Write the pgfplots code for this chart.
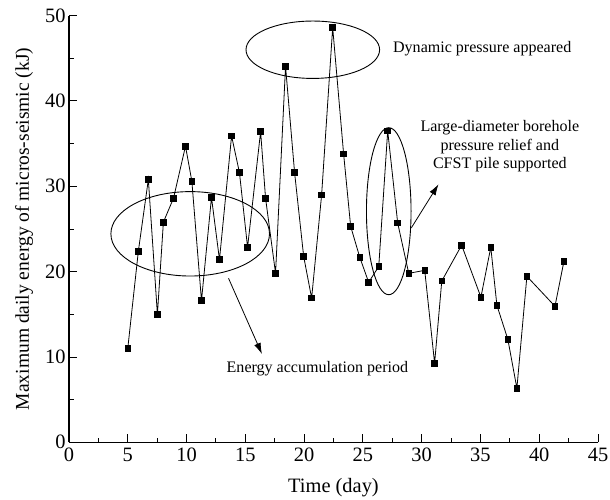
\documentclass[border=0pt]{standalone}
\usepackage{pgfplots}
\pgfplotsset{compat=1.18}
\usetikzlibrary{arrows.meta}
\usepackage{fontspec}
\setmainfont{Liberation Serif}
\pgfplotstableread{
x y
5.0 11.0
5.9 22.4
6.75 30.8
7.52 15.0
8.03 25.8
8.89 28.6
9.91 34.7
10.45 30.6
11.27 16.6
12.12 28.7
12.8 21.4
13.83 35.9
14.5 31.6
15.19 22.85
16.3 36.4
16.72 28.6
17.57 19.8
18.42 44.06
19.19 31.6
19.96 21.8
20.64 16.9
21.49 29.0
22.43 48.6
23.36 33.8
23.96 25.3
24.73 21.7
25.49 18.75
26.35 20.6
27.11 36.5
27.96 25.7
28.9 19.8
30.26 20.15
31.1 9.26
31.71 18.9
33.4 23.1
35.04 17.0
35.88 22.85
36.4 16.05
37.33 12.07
38.1 6.33
38.95 19.45
41.34 15.94
42.1 21.2
}\energy
\begin{document}
\begin{tikzpicture}
\begin{axis}[
  width=529bp, height=426.7bp, scale only axis,
  xmin=0, xmax=45, ymin=0, ymax=50,
  axis lines=left, axis line style={-, line width=1.1pt},
  xtick={0,5,...,45}, minor xtick={2.5,7.5,...,42.5},
  ytick={0,10,...,50}, minor ytick={5,15,...,45},
  tick align=inside,
  major tick length=8bp, minor tick length=4.5bp,
  tick style={black, line width=0.9pt},
  ticklabel style={font=\fontsize{20.5}{23}\selectfont},
  xticklabel style={yshift=-2bp},
  /pgf/number format/assume math mode=true,
  xlabel={Time (day)},
  ylabel={Maximum daily energy of micros-seismic (kJ)},
  xlabel style={font=\fontsize{20.5}{23}\selectfont, at={(axis description cs:0.5,-0.107)}, anchor=center},
  ylabel style={font=\fontsize{19.6}{22}\selectfont, at={(axis description cs:-0.085,0.5)}, anchor=center},
  clip=false,
]
\addplot[black, line width=0.8pt, mark=square*, mark size=2.8bp, mark options={solid}] table[x=x,y=y] {\energy};
\draw[line width=0.9pt] (axis cs:10.31,24.43) ellipse [x radius=79.3bp, y radius=42.2bp];
\draw[line width=0.9pt] (axis cs:20.74,46.0) ellipse [x radius=66.8bp, y radius=28.7bp];
\draw[line width=0.9pt] (axis cs:27.2,27.08) ellipse [x radius=22.3bp, y radius=83.5bp];
\draw[line width=0.8pt, -{Latex[length=11bp, width=7bp]}] (axis cs:13.57,19.22) -- (axis cs:16.41,10.35);
\draw[line width=0.8pt, -{Latex[length=11bp, width=7bp]}] (axis cs:29.13,25.15) -- (axis cs:31.43,30.23);
\node[font=\fontsize{16.1}{18}\selectfont] at (axis cs:35.15,46.17) {Dynamic pressure appeared};
\node[font=\fontsize{16.1}{18.8}\selectfont, align=center] at (axis cs:36.65,34.7) {Large-diameter borehole\\pressure relief and\\CFST pile supported};
\node[font=\fontsize{16.1}{18}\selectfont] at (axis cs:21.13,8.6) {Energy accumulation period};
\end{axis}
\pgfresetboundingbox
\useasboundingbox (-69bp,-57.7bp) rectangle (541bp,442.3bp);
\end{tikzpicture}
\end{document}
